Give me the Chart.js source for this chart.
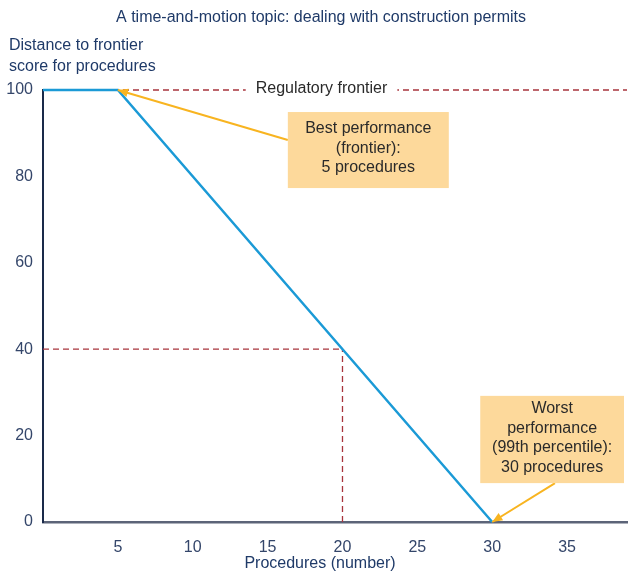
<!DOCTYPE html>
<html>
<head>
<meta charset="utf-8">
<script src="https://cdn.jsdelivr.net/npm/chart.js@4"></script>
<style>
  html, body { margin: 0; padding: 0; background: #fff; }
  #wrap { width: 630px; height: 573px; }
</style>
</head>
<body>
<div id="wrap"><canvas id="c" width="630" height="573"></canvas></div>
<script>
// scoring curve
const procedures = [0, 5, 30];
const scores = [100, 100, 0];

// reference markers
const frontierX = [0, 39];
const frontierY = [100, 100];
const guideHX = [0, 20];
const guideHY = [40, 40];
const guideVX = [20, 20];
const guideVY = [0, 40];

const xTicks = [5, 10, 15, 20, 25, 30, 35];
const yTicks = [0, 20, 40, 60, 80, 100];

const FONT = '"Liberation Sans Narrow", "Liberation Sans", sans-serif';
const NAVY = '#1f3a68';
const TICK = '#34466a';
const ORANGE = '#f8b420';
const BOX = '#fdd99b';
const RED = '#a8343c';

function pts(xs, ys) {
    return xs.map((x, i) => ({ x: x, y: ys[i] }));
}

// callouts: box in data units, arrow tip at a data point
const callouts = [
    { lines: ['Best performance', '(frontier):', '5 procedures'],
      x0: 16.35, x1: 27.1, y0: 94.9, y1: 77.3, tip: { x: 5, y: 100 }, from: 'left' },
    { lines: ['Worst', 'performance', '(99th percentile):', '30 procedures'],
      x0: 29.2, x1: 38.8, y0: 29.2, y1: 9.0, tip: { x: 30, y: 0 }, from: 'bottom' }
];

const extras = {
    id: 'extras',
    afterDatasetsDraw(chart) {
        const ctx = chart.ctx;
        const xs = chart.scales.x, ys = chart.scales.y;
        ctx.save();

        // label on the frontier line
        ctx.font = '16px ' + FONT;
        const lab = 'Regulatory frontier';
        const lx = xs.getPixelForValue(18.6), ly = ys.getPixelForValue(100);
        const w = ctx.measureText(lab).width;
        ctx.fillStyle = '#fff';
        ctx.fillRect(lx - w / 2 - 10, ly - 10, w + 20, 20);
        ctx.fillStyle = '#2a2a2a';
        ctx.textAlign = 'center';
        ctx.textBaseline = 'middle';
        ctx.fillText(lab, lx, ly - 1);

        callouts.forEach(c => {
            const l = xs.getPixelForValue(c.x0), r = xs.getPixelForValue(c.x1);
            const t = ys.getPixelForValue(c.y0), b = ys.getPixelForValue(c.y1);
            const tx = xs.getPixelForValue(c.tip.x), ty = ys.getPixelForValue(c.tip.y);
            let sx, sy;
            if (c.from === 'left') { sx = l; sy = (t + b) / 2 - 10; }
            else { sx = l + (r - l) * 0.52; sy = b; }
            // arrow
            ctx.strokeStyle = ORANGE;
            ctx.fillStyle = ORANGE;
            ctx.lineWidth = 2;
            ctx.beginPath();
            ctx.moveTo(sx, sy);
            ctx.lineTo(tx, ty);
            ctx.stroke();
            const ang = Math.atan2(ty - sy, tx - sx);
            ctx.beginPath();
            ctx.moveTo(tx, ty);
            ctx.lineTo(tx - 11 * Math.cos(ang - 0.4), ty - 11 * Math.sin(ang - 0.4));
            ctx.lineTo(tx - 11 * Math.cos(ang + 0.4), ty - 11 * Math.sin(ang + 0.4));
            ctx.closePath();
            ctx.fill();
            // box
            ctx.fillStyle = BOX;
            ctx.fillRect(l, t, r - l, b - t);
            ctx.fillStyle = '#2a2a2a';
            ctx.font = '16px ' + FONT;
            const lh = 19.5;
            const cy = (t + b) / 2 - (c.lines.length - 1) * lh / 2 - 1.5;
            c.lines.forEach((s, i) => ctx.fillText(s, (l + r) / 2, cy + i * lh));
        });

        // titles
        ctx.fillStyle = NAVY;
        ctx.font = '16px ' + FONT;
        ctx.textAlign = 'center';
        ctx.fillText('A time-and-motion topic: dealing with construction permits', 321, 18);
        ctx.textAlign = 'left';
        ctx.fillText('Distance to frontier', 9, 46);
        ctx.fillText('score for procedures', 9, 67);
        ctx.textAlign = 'center';
        ctx.fillText('Procedures (number)', 320, 564);
        ctx.restore();
    }
};

new Chart(document.getElementById('c'), {
    type: 'scatter',
    data: {
        datasets: [
            { data: pts(frontierX, frontierY), showLine: true, borderColor: RED, clip: false,
              borderWidth: 1.3, borderDash: [6, 4], pointRadius: 0, order: 3 },
            { data: pts(guideHX, guideHY), showLine: true, borderColor: RED, clip: false,
              borderWidth: 1.3, borderDash: [6, 4], pointRadius: 0, order: 3 },
            { data: pts(guideVX, guideVY), showLine: true, borderColor: RED, clip: false,
              borderWidth: 1.3, borderDash: [6, 4], pointRadius: 0, order: 3 },
            { data: pts(procedures, scores), showLine: true, borderColor: '#1b9ad6', clip: false,
              borderWidth: 2.5, pointRadius: 0, order: 1 }
        ]
    },
    options: {
        responsive: false,
        animation: false,
        layout: { padding: { top: 90, right: 3, left: 0, bottom: 0 } },
        plugins: { legend: { display: false }, tooltip: { enabled: false } },
        scales: {
            x: {
                type: 'linear', min: 0, max: 39,
                afterBuildTicks: s => { s.ticks = xTicks.map(v => ({ value: v })); },
                afterFit: s => { s.height = 51; },
                grid: { display: false, drawTicks: false },
                border: { color: '#5c6478', width: 2.5 },
                ticks: { color: TICK, font: { family: FONT, size: 16 }, padding: 16 }
            },
            y: {
                type: 'linear', min: 0, max: 100,
                afterBuildTicks: s => { s.ticks = yTicks.map(v => ({ value: v })); },
                afterFit: s => { s.width = 43; },
                grid: { display: false, drawTicks: false },
                border: { color: '#1a2a4a', width: 2 },
                ticks: { color: TICK, font: { family: FONT, size: 16 }, padding: 10 }
            }
        }
    },
    plugins: [extras]
});
</script>
</body>
</html>
